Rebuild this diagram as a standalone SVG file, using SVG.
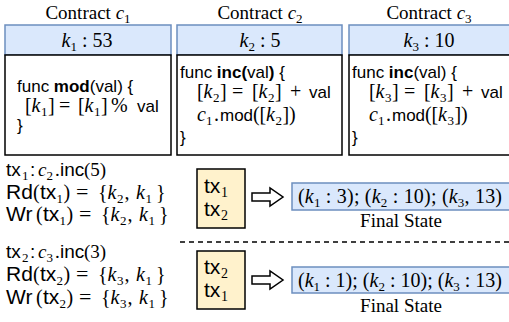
<svg xmlns="http://www.w3.org/2000/svg" width="509" height="322" viewBox="0 0 509 322">
<style>
.t{font-family:"Liberation Serif","Times New Roman",serif;fill:#000}
.s{font-family:"Liberation Sans",Arial,sans-serif;fill:#000}
.i{font-style:italic}
.b{font-weight:bold}
.hd{fill:#dae8fc;stroke:#6c8ebf;stroke-width:1.5}
.bd{fill:#fff;stroke:#000;stroke-width:1.5}
.yl{fill:#fff2cc;stroke:#000;stroke-width:1.5}
.ar{fill:#fff;stroke:#000;stroke-width:1.5;stroke-linejoin:miter}
.dash{stroke:#000;stroke-width:1.5;stroke-dasharray:5 4;fill:none}
</style>
<rect width="509" height="322" fill="#fff"/>

<g id="contract-c1">
<text class="t" x="88" y="19" font-size="19" text-anchor="middle">Contract <tspan class="i">c</tspan><tspan font-size="13" dy="4">1</tspan></text>
<rect class="hd" x="5" y="25" width="166" height="30"/>
<rect class="bd" x="5" y="55" width="166" height="100"/>
<text class="t" x="87" y="47" font-size="20" text-anchor="middle"><tspan class="i">k</tspan><tspan font-size="13" dy="4">1</tspan><tspan dy="-4"> : 53</tspan></text>
<text class="s" x="17" y="92" font-size="17">func <tspan class="b">mod</tspan>(val) {</text>
<text class="t" y="112" font-size="20"><tspan x="25">[</tspan><tspan x="31.5" class="i">k</tspan><tspan x="41" dy="4" font-size="13">1</tspan><tspan x="48" dy="-4">]</tspan><tspan x="59">=</tspan><tspan x="78">[</tspan><tspan x="84.5" class="i">k</tspan><tspan x="94" dy="4" font-size="13">1</tspan><tspan x="101" dy="-4">]</tspan><tspan x="111">%</tspan></text>
<text class="s" x="137" y="112" font-size="17">val</text>
<text class="s" x="17" y="131" font-size="17">}</text>
</g>

<g id="contract-c2">
<text class="t" x="260" y="19" font-size="19" text-anchor="middle">Contract <tspan class="i">c</tspan><tspan font-size="13" dy="4">2</tspan></text>
<rect class="hd" x="177" y="25" width="165" height="30"/>
<rect class="bd" x="177" y="55" width="165" height="100"/>
<text class="t" x="260" y="47" font-size="20" text-anchor="middle"><tspan class="i">k</tspan><tspan font-size="13" dy="4">2</tspan><tspan dy="-4"> : 5</tspan></text>
<text class="s" x="180" y="78" font-size="17">func <tspan class="b">inc(</tspan>val<tspan class="b">)</tspan> {</text>
<text class="t" y="98" font-size="20"><tspan x="197">[</tspan><tspan x="203.5" class="i">k</tspan><tspan x="213" dy="4" font-size="13">2</tspan><tspan x="220" dy="-4">]</tspan><tspan x="232">=</tspan><tspan x="252">[</tspan><tspan x="258.5" class="i">k</tspan><tspan x="268" dy="4" font-size="13">2</tspan><tspan x="275" dy="-4">]</tspan><tspan x="290">+</tspan></text>
<text class="s" x="309" y="98" font-size="17">val</text>
<text class="t" y="121" font-size="20"><tspan x="197" class="i">c</tspan><tspan x="206" dy="4" font-size="13">1</tspan><tspan x="214" dy="-4">.</tspan><tspan x="253">(</tspan><tspan x="259.5">[</tspan><tspan x="266" class="i">k</tspan><tspan x="275.5" dy="4" font-size="13">2</tspan><tspan x="282.5" dy="-4">]</tspan><tspan x="289">)</tspan></text>
<text class="s" x="220" y="121" font-size="17">mod</text>
<text class="s" x="180" y="143" font-size="17">}</text>
</g>

<g id="contract-c3">
<text class="t" x="429" y="19" font-size="19" text-anchor="middle">Contract <tspan class="i">c</tspan><tspan font-size="13" dy="4">3</tspan></text>
<rect class="hd" x="349" y="25" width="162" height="30"/>
<rect class="bd" x="349" y="55" width="162" height="100"/>
<text class="t" x="429" y="47" font-size="20" text-anchor="middle"><tspan class="i">k</tspan><tspan font-size="13" dy="4">3</tspan><tspan dy="-4"> : 10</tspan></text>
<text class="s" x="352" y="78" font-size="17">func <tspan class="b">inc</tspan>(val) {</text>
<text class="t" y="98" font-size="20"><tspan x="369">[</tspan><tspan x="375.5" class="i">k</tspan><tspan x="385" dy="4" font-size="13">3</tspan><tspan x="392" dy="-4">]</tspan><tspan x="404">=</tspan><tspan x="424">[</tspan><tspan x="430.5" class="i">k</tspan><tspan x="440" dy="4" font-size="13">3</tspan><tspan x="447" dy="-4">]</tspan><tspan x="462">+</tspan></text>
<text class="s" x="481" y="98" font-size="17">val</text>
<text class="t" y="121" font-size="20"><tspan x="369" class="i">c</tspan><tspan x="378" dy="4" font-size="13">1</tspan><tspan x="386" dy="-4">.</tspan><tspan x="425">(</tspan><tspan x="431.5">[</tspan><tspan x="438" class="i">k</tspan><tspan x="447.5" dy="4" font-size="13">3</tspan><tspan x="454.5" dy="-4">]</tspan><tspan x="461">)</tspan></text>
<text class="s" x="392" y="121" font-size="17">mod</text>
<text class="s" x="352" y="143" font-size="17">}</text>
</g>

<g id="tx1-desc">
<text y="176" font-size="19"><tspan class="s" x="6">tx</tspan><tspan class="t" x="22" dy="4" font-size="13">1</tspan><tspan class="s" x="30" dy="-4">:</tspan><tspan class="t i" x="38">c</tspan><tspan class="t" x="46.5" dy="4" font-size="13">2</tspan><tspan class="t" x="55" dy="-4">.</tspan><tspan class="s" x="60">inc</tspan><tspan class="t" x="84">(5)</tspan></text>
<text y="199" font-size="21"><tspan class="s" x="6">Rd</tspan><tspan class="t" x="33" font-size="20">(</tspan><tspan class="s" x="40">tx</tspan><tspan class="t" x="56.5" dy="4" font-size="13">1</tspan><tspan class="t" x="63.5" dy="-4" font-size="20">)</tspan><tspan class="t" x="76" font-size="22">=</tspan><tspan class="t" x="98" font-size="20">{</tspan><tspan class="t i" x="107.5" font-size="20">k</tspan><tspan class="t" x="117" dy="4" font-size="13">2</tspan><tspan class="t" x="124.5" dy="-4" font-size="20">,</tspan><tspan class="t i" x="136" font-size="20">k</tspan><tspan class="t" x="145.5" dy="4" font-size="13">1</tspan><tspan class="t" x="156" dy="-4" font-size="20">}</tspan></text>
<text y="221" font-size="21"><tspan class="s" x="6">Wr</tspan><tspan class="t" x="36" font-size="20">(</tspan><tspan class="s" x="43">tx</tspan><tspan class="t" x="59.5" dy="4" font-size="13">1</tspan><tspan class="t" x="66.5" dy="-4" font-size="20">)</tspan><tspan class="t" x="79" font-size="22">=</tspan><tspan class="t" x="101" font-size="20">{</tspan><tspan class="t i" x="110.5" font-size="20">k</tspan><tspan class="t" x="120" dy="4" font-size="13">2</tspan><tspan class="t" x="127.5" dy="-4" font-size="20">,</tspan><tspan class="t i" x="139" font-size="20">k</tspan><tspan class="t" x="148.5" dy="4" font-size="13">1</tspan><tspan class="t" x="159" dy="-4" font-size="20">}</tspan></text>
</g>

<g id="tx2-desc">
<text y="258" font-size="19"><tspan class="s" x="6">tx</tspan><tspan class="t" x="22" dy="4" font-size="13">2</tspan><tspan class="s" x="30" dy="-4">:</tspan><tspan class="t i" x="38">c</tspan><tspan class="t" x="46.5" dy="4" font-size="13">3</tspan><tspan class="t" x="55" dy="-4">.</tspan><tspan class="s" x="60">inc</tspan><tspan class="t" x="84">(3)</tspan></text>
<text y="281" font-size="21"><tspan class="s" x="6">Rd</tspan><tspan class="t" x="33" font-size="20">(</tspan><tspan class="s" x="40">tx</tspan><tspan class="t" x="56.5" dy="4" font-size="13">2</tspan><tspan class="t" x="63.5" dy="-4" font-size="20">)</tspan><tspan class="t" x="76" font-size="22">=</tspan><tspan class="t" x="98" font-size="20">{</tspan><tspan class="t i" x="107.5" font-size="20">k</tspan><tspan class="t" x="117" dy="4" font-size="13">3</tspan><tspan class="t" x="124.5" dy="-4" font-size="20">,</tspan><tspan class="t i" x="136" font-size="20">k</tspan><tspan class="t" x="145.5" dy="4" font-size="13">1</tspan><tspan class="t" x="156" dy="-4" font-size="20">}</tspan></text>
<text y="304" font-size="21"><tspan class="s" x="6">Wr</tspan><tspan class="t" x="36" font-size="20">(</tspan><tspan class="s" x="43">tx</tspan><tspan class="t" x="59.5" dy="4" font-size="13">2</tspan><tspan class="t" x="66.5" dy="-4" font-size="20">)</tspan><tspan class="t" x="79" font-size="22">=</tspan><tspan class="t" x="101" font-size="20">{</tspan><tspan class="t i" x="110.5" font-size="20">k</tspan><tspan class="t" x="120" dy="4" font-size="13">3</tspan><tspan class="t" x="127.5" dy="-4" font-size="20">,</tspan><tspan class="t i" x="139" font-size="20">k</tspan><tspan class="t" x="148.5" dy="4" font-size="13">1</tspan><tspan class="t" x="159" dy="-4" font-size="20">}</tspan></text>
</g>

<g id="order-1">
<rect class="yl" x="197" y="169" width="48" height="59"/>
<text y="193" font-size="21"><tspan class="s" x="204">tx</tspan><tspan class="t" x="221" dy="4" font-size="14">1</tspan></text>
<text y="216" font-size="21"><tspan class="s" x="204">tx</tspan><tspan class="t" x="221" dy="4" font-size="14">2</tspan></text>
</g>

<g id="order-2">
<rect class="yl" x="197" y="251" width="48" height="58"/>
<text y="274" font-size="21"><tspan class="s" x="204">tx</tspan><tspan class="t" x="221" dy="4" font-size="14">2</tspan></text>
<text y="297" font-size="21"><tspan class="s" x="204">tx</tspan><tspan class="t" x="221" dy="4" font-size="14">1</tspan></text>
</g>

<g id="state-1">
<rect class="hd" x="292" y="183" width="219" height="27"/>
<text class="t" x="298" y="203" font-size="20" textLength="204" lengthAdjust="spacing">(<tspan class="i">k</tspan><tspan font-size="13" dy="4">1</tspan><tspan dy="-4"> : 3); (</tspan><tspan class="i">k</tspan><tspan font-size="13" dy="4">2</tspan><tspan dy="-4"> : 10); (</tspan><tspan class="i">k</tspan><tspan font-size="13" dy="4">3</tspan><tspan dy="-4">, 13)</tspan></text>
<text class="t" x="401" y="227" font-size="19" text-anchor="middle">Final State</text>
</g>

<g id="state-2">
<rect class="hd" x="292" y="267" width="219" height="26"/>
<text class="t" x="298" y="287" font-size="20" textLength="204" lengthAdjust="spacing">(<tspan class="i">k</tspan><tspan font-size="13" dy="4">1</tspan><tspan dy="-4"> : 1); (</tspan><tspan class="i">k</tspan><tspan font-size="13" dy="4">2</tspan><tspan dy="-4"> : 10); (</tspan><tspan class="i">k</tspan><tspan font-size="13" dy="4">3</tspan><tspan dy="-4"> : 13)</tspan></text>
<text class="t" x="401" y="312" font-size="19" text-anchor="middle">Final State</text>
</g>

<g id="connectors">
<polygon class="ar" points="252,193 270,193 270,188 283,197 270,206 270,201 252,201"/>
<polygon class="ar" points="252,276 270,276 270,271 283,280 270,289 270,284 252,284"/>
<line class="dash" x1="180" y1="242" x2="509" y2="242"/>
</g>
</svg>
